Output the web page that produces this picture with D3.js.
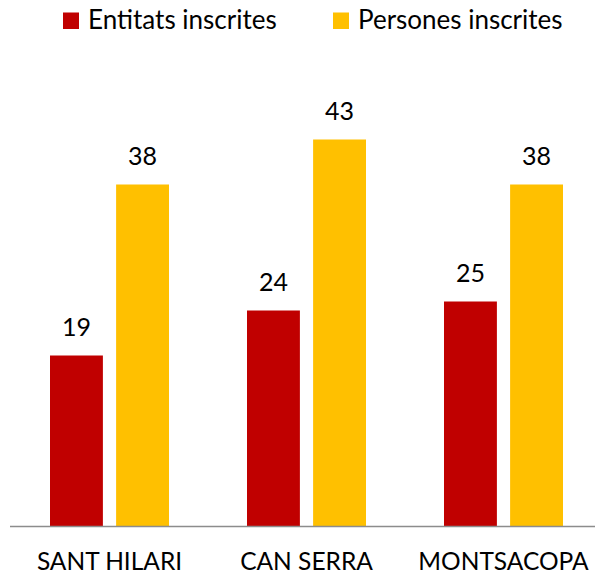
<!DOCTYPE html>
<html><head><meta charset="utf-8">
<script src="https://cdn.jsdelivr.net/npm/d3@7"></script>
<style>body{margin:0;background:#fff}svg{display:block}text{font-family:Lato,"Open Sans",sans-serif;fill:#000}</style>
</head><body><svg id="c" width="595" height="576"></svg>
<script>
const categories = ["SANT HILARI", "CAN SERRA", "MONTSACOPA"];
const seriesNames = ["Entitats inscrites", "Persones inscrites"];
const entitats = [19, 24, 25];
const persones = [38, 43, 38];
const colors = ["#C00000", "#FFC000"];

const svg = d3.select("#c");
const baseY = 526.5;
const x0 = d3.scaleBand().domain(categories).range([11, 602]);
const groupW = 119;
const x1 = d3.scaleBand().domain(seriesNames).range([0, groupW]).paddingInner(0.2);
const y = d3.scaleLinear().domain([0, 45]).range([baseY, baseY - 405]);

const data = categories.map((c, i) => ({cat: c, vals: [entitats[i], persones[i]]}));

const g = svg.selectAll("g.grp").data(data).join("g")
  .attr("class", "grp")
  .attr("transform", d => `translate(${x0(d.cat) + (x0.bandwidth() - groupW) / 2},0)`);

g.selectAll("rect").data(d => d.vals.map((v, j) => ({s: seriesNames[j], v, j})))
  .join("rect")
  .attr("x", d => x1(d.s))
  .attr("width", x1.bandwidth())
  .attr("y", d => y(d.v))
  .attr("height", d => y(0) - y(d.v))
  .attr("fill", d => colors[d.j]);

g.selectAll("text.val").data(d => d.vals.map((v, j) => ({s: seriesNames[j], v, j})))
  .join("text")
  .attr("class", "val")
  .attr("x", d => x1(d.s) + x1.bandwidth() / 2)
  .attr("y", d => y(d.v) - 20)
  .attr("text-anchor", "middle")
  .attr("font-size", 25)
  .text(d => d.v);

// axis
const xAxis = d3.axisBottom(x0).tickSize(0).tickPadding(26);
const ax = svg.append("g").attr("transform", `translate(0,${baseY})`).call(xAxis);
ax.select(".domain").remove();
ax.selectAll("text").attr("font-size", 24.5).attr("font-family", "Lato, 'Open Sans', sans-serif").attr("fill", "#000");
svg.append("line").attr("x1", 10).attr("x2", 595).attr("y1", baseY).attr("y2", baseY)
  .attr("stroke", "#8c8c8c").attr("stroke-width", 1.5);

// legend
const legendX = [63, 333];
const lg = svg.selectAll("g.leg").data(seriesNames).join("g").attr("class", "leg")
  .attr("transform", (d, i) => `translate(${legendX[i]},0)`);
lg.append("rect").attr("x", 0).attr("y", 12.5).attr("width", 16).attr("height", 16.5)
  .attr("fill", (d, i) => colors[i]);
lg.append("text").attr("x", 25).attr("y", 29).attr("font-size", 26).text(d => d);
</script></body></html>
